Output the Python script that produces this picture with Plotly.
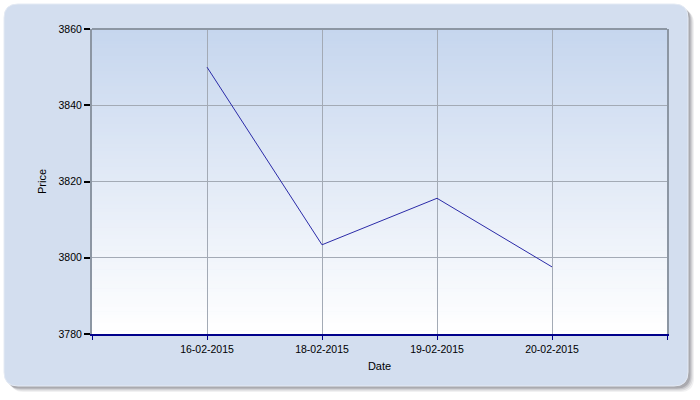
import plotly.graph_objects as go

dates = ["16-02-2015", "18-02-2015", "19-02-2015", "20-02-2015"]
prices = [3850.0, 3803.4, 3815.6, 3797.6]
y_ticks = [3780, 3800, 3820, 3840, 3860]

W, H = 700, 400
L, R, T, B = 92, 667, 29, 334  # plot area in pixels


def px(x):
    return (x - L) / (R - L)


def py(y):
    return (B - y) / (B - T)


def rrect(x0, y0, x1, y1, r):
    return (f"M {px(x0 + r)} {py(y0)} L {px(x1 - r)} {py(y0)} "
            f"Q {px(x1)} {py(y0)} {px(x1)} {py(y0 + r)} "
            f"L {px(x1)} {py(y1 - r)} Q {px(x1)} {py(y1)} {px(x1 - r)} {py(y1)} "
            f"L {px(x0 + r)} {py(y1)} Q {px(x0)} {py(y1)} {px(x0)} {py(y1 - r)} "
            f"L {px(x0)} {py(y0 + r)} Q {px(x0)} {py(y0)} {px(x0 + r)} {py(y0)} Z")


shapes = []
# shadow
for i, a in enumerate([0.07, 0.10, 0.14, 0.20]):
    o = 6 - i * 1.2
    shapes.append(dict(type="path", xref="paper", yref="paper", layer="below",
                       path=rrect(4 + o, 4 + o, 688 + o, 386 + o, 14),
                       fillcolor=f"rgba(60,60,70,{a})", line=dict(width=0)))
# outer panel
shapes.append(dict(type="path", xref="paper", yref="paper", layer="below",
                   path=rrect(4, 4, 688, 386, 14),
                   fillcolor="#D3DEEF", line=dict(color="#E4EAF4", width=1)))
# plot area vertical gradient
n = 80
c0 = (198, 214, 238)
c1 = (255, 255, 255)
for i in range(n):
    t = i / (n - 1)
    c = tuple(round(c0[k] + (c1[k] - c0[k]) * t) for k in range(3))
    shapes.append(dict(type="rect", xref="paper", yref="paper", layer="below",
                       x0=0, x1=1, y0=1 - i / n, y1=1 - (i + 1) / n - 0.002,
                       fillcolor=f"rgb{c}", line=dict(width=0)))
# top frame line
shapes.append(dict(type="line", xref="paper", yref="paper", layer="above",
                   x0=0, x1=1, y0=1, y1=1, line=dict(color="#8C96A3", width=2)))

xs = list(range(len(dates)))
fig = go.Figure()
fig.add_trace(go.Scatter(x=xs, y=prices, mode="lines",
                         line=dict(color="#2B2BA8", width=1), hoverinfo="skip"))

font = dict(family="Liberation Sans, Arial, sans-serif", size=10.5, color="#000000")

fig.update_layout(
    width=W, height=H,
    margin=dict(l=L, r=W - R, t=T, b=H - B),
    paper_bgcolor="#FFFFFF",
    plot_bgcolor="rgba(0,0,0,0)",
    showlegend=False,
    shapes=shapes,
    font=font,
    xaxis=dict(
        range=[-1, len(dates)],
        tickvals=list(range(-1, len(dates) + 1)),
        ticktext=[""] + dates + [""],
        showgrid=True, gridcolor="#A3AAB5", gridwidth=1,
        showline=True, linecolor="#00008B", linewidth=2,
        ticks="outside", ticklen=4, tickcolor="#00008B", tickwidth=1,
        zeroline=False,
        title=dict(text="Date", font=dict(size=11), standoff=9),
    ),
    yaxis=dict(
        range=[y_ticks[0], y_ticks[-1]],
        tickvals=y_ticks,
        showgrid=True, gridcolor="#A3AAB5", gridwidth=1,
        showline=True, linecolor="#8C96A3", linewidth=2, mirror=True,
        ticks="outside", ticklen=6, tickcolor="#000000", tickwidth=1.5,
        zeroline=False,
        title=dict(text="Price", font=dict(size=11), standoff=10),
    ),
)

fig.write_html("out.html")
